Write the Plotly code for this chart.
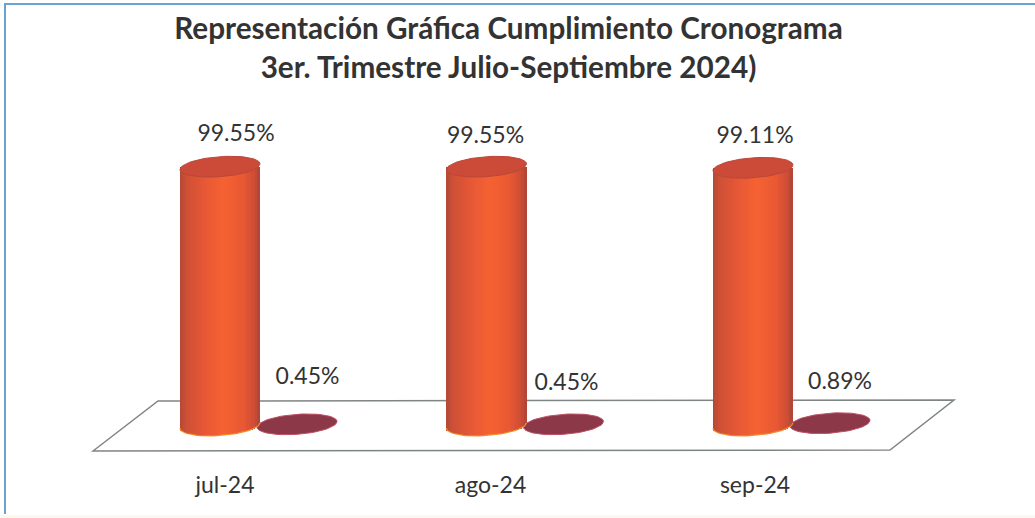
import numpy as np
import plotly.graph_objects as go

# --- data ---
months = ["jul-24", "ago-24", "sep-24"]
cumple = [99.55, 99.55, 99.11]
no_cumple = [0.45, 0.45, 0.89]
title_lines = ["Representación Gráfica Cumplimiento Cronograma",
               "3er. Trimestre Julio-Septiembre 2024)"]

# --- layout constants ---
W, H = 1035, 518
M_T, M_B = 110, 49
X0_PX, DX_PX = 220.0, 266.5
Y0_PX, Y_SCALE = 425.5, 2.60
PLOT_B = H - M_B
xr = [(0 - X0_PX) / DX_PX, (W - X0_PX) / DX_PX]
yr = [(Y0_PX - PLOT_B) / Y_SCALE, (Y0_PX - M_T) / Y_SCALE]
px_x = lambda p: p / W
px_y = lambda p: (PLOT_B - p) / (PLOT_B - M_T)

A = 40 / DX_PX            # cylinder half width (x units)
B = 10 / Y_SCALE          # cap half height (y units)
TILT = 0.07 * DX_PX / Y_SCALE  # y units per x unit
TILT_SMALL = 0.07 * DX_PX / Y_SCALE
SMALL_OFFSET = 77 / DX_PX


def ellipse(cx, cy, a=A, b=B, tilt=TILT):
    t = np.linspace(0, 2 * np.pi, 73)
    xs = a * np.cos(t)
    return cx + xs, cy + b * np.sin(t) + tilt * xs


fig = go.Figure()

# small ellipses (second series), behind the cylinders
for i, v in enumerate(no_cumple):
    ex, ey = ellipse(i + SMALL_OFFSET, v, tilt=TILT_SMALL)
    fig.add_trace(go.Scatter(x=ex, y=ey, mode="lines", fill="toself",
                             fillcolor="#8c3848", line=dict(color="#bd5064", width=1),
                             hoverinfo="skip", showlegend=False))

# cylinders as shaded vertical strips of bars
N = 32
stops = [(0.0, (178, 72, 56)), (0.08, (206, 80, 54)), (0.3, (230, 88, 54)),
         (0.55, (246, 98, 50)), (0.8, (232, 88, 52)), (0.93, (206, 78, 54)), (1.0, (172, 68, 56))]
sf = [s[0] for s in stops]


def shade(f):
    return "rgb(%d,%d,%d)" % tuple(int(np.interp(f, sf, [s[1][k] for s in stops])) for k in range(3))


for k in range(N):
    f = (k + 0.5) / N
    dx = (2 * f - 1) * A
    base = -B * np.sqrt(1 - (dx / A) ** 2) + TILT * dx
    fig.add_trace(go.Bar(x=[i + dx for i in range(len(months))],
                         y=[v - base for v in cumple], base=base,
                         width=2 * A / N * 1.25, marker=dict(color=shade(f), line_width=0),
                         hoverinfo="skip", showlegend=False))

# lower rim and top caps
for i, v in enumerate(cumple):
    t = np.linspace(np.pi, 2 * np.pi, 37)
    xs = A * np.cos(t)
    fig.add_trace(go.Scatter(x=i + xs, y=B * np.sin(t) + TILT * xs, mode="lines",
                             line=dict(color="#f58a2a", width=1.2),
                             hoverinfo="skip", showlegend=False))
    ex, ey = ellipse(i, v)
    fig.add_trace(go.Scatter(x=ex, y=ey, mode="lines", fill="toself",
                             fillcolor="#cc4a38", line=dict(color="#b8483a", width=1),
                             hoverinfo="skip", showlegend=False))

# data labels
lab_dx = [16 / DX_PX, -1 / DX_PX, 2 / DX_PX]
lab_dy = [12.2, 11.4, 11.9]
fig.add_trace(go.Scatter(x=[i + d for i, d in enumerate(lab_dx)],
                         y=[v + d for v, d in zip(cumple, lab_dy)],
                         text=[f"{v:.2f}%" for v in cumple], mode="text",
                         textfont=dict(family="Lato", size=23, color="#333333"),
                         cliponaxis=False, hoverinfo="skip", showlegend=False))
small_dx = [87.5 / DX_PX, 80 / DX_PX, 87 / DX_PX]
small_dy = [17.6, 15.6, 15.2]
fig.add_trace(go.Scatter(x=[i + d for i, d in enumerate(small_dx)],
                         y=[v + d for v, d in zip(no_cumple, small_dy)],
                         text=[f"{v:.2f}%" for v in no_cumple], mode="text",
                         textfont=dict(family="Lato", size=23, color="#333333"),
                         cliponaxis=False, hoverinfo="skip", showlegend=False))

floor = [(93, 451), (158, 401), (954, 400), (890, 450)]
floor_path = "M " + " L ".join(f"{px_x(a):.5f} {px_y(b):.5f}" for a, b in floor) + " Z"
frame_path = (f"M {px_x(5):.5f} {px_y(514):.5f} L {px_x(5):.5f} {px_y(4):.5f} "
              f"L {px_x(1035):.5f} {px_y(4):.5f}")

fig.update_layout(
    width=W, height=H, autosize=False,
    margin=dict(l=0, r=0, t=M_T, b=M_B, pad=0),
    paper_bgcolor="white", plot_bgcolor="rgba(0,0,0,0)",
    barmode="overlay", bargap=0, showlegend=False,
    title=dict(text=f'<b><span style="font-size:29.7px">{title_lines[0]}<br>{title_lines[1]}</span></b>',
               x=508.5 / W, xanchor="center", y=1 - 39 / H, yanchor="middle",
               font=dict(family="Lato", size=30, color="#333333")),
    xaxis=dict(range=xr, tickvals=[5 / DX_PX, 1 + 4 / DX_PX, 2 + 2 / DX_PX], ticktext=months,
               showgrid=False, zeroline=False, showline=False, ticks="", automargin=False,
               tickfont=dict(family="Lato", size=23, color="#333333")),
    yaxis=dict(range=yr, visible=False),
    shapes=[
        dict(type="path", path=frame_path, xref="paper", yref="paper", layer="below",
             line=dict(color="#6aa3cf", width=2)),
        dict(type="rect", xref="paper", yref="paper", layer="below",
             x0=0, x1=1, y0=px_y(518), y1=px_y(515),
             line=dict(width=0), fillcolor="#fdf9ee"),
        dict(type="path", path=floor_path, xref="paper", yref="paper", layer="below",
             line=dict(color="#7f8583", width=1.5), fillcolor="white"),
    ],
)

fig.write_html("out.html", config={"displayModeBar": False},
               post_script="document.body.style.margin='0';")
